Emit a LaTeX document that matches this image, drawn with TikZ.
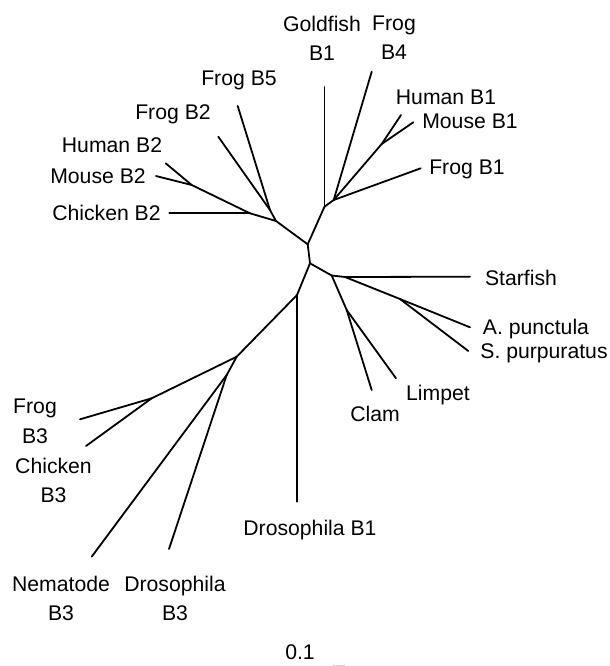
\documentclass[tikz,border=0pt]{standalone}
\usepackage{fontspec}
\setmainfont{Liberation Sans}
\begin{document}
\begin{tikzpicture}[x=0.5pt,y=-0.5pt,
  branch/.style={line width=0.9pt, line cap=round, line join=round},
  lbl/.style={inner sep=0pt, font=\fontsize{10.6}{14.6}\selectfont},
  lbl2/.style={lbl, align=center, anchor=north}]
\useasboundingbox (0,0) rectangle (610,666);
% internal nodes
\coordinate (A) at (307.7,244.3);
\coordinate (B) at (310,263.3);
\coordinate (C) at (324.5,206.7);
\coordinate (D) at (333.7,200);
\coordinate (E) at (381.7,144);
\coordinate (F) at (276,221);
\coordinate (G) at (270,210);
\coordinate (HM) at (191.7,185);
\coordinate (CK) at (250,213.3);
\coordinate (H) at (331.7,275.5);
\coordinate (K) at (345,277);
\coordinate (EC) at (400,299);
\coordinate (MO) at (346.7,310);
\coordinate (I) at (297,295);
\coordinate (J) at (236.7,356.7);
\coordinate (NJ) at (226.7,375);
\coordinate (FC) at (151.7,398.3);
% tips
\coordinate (tGoldfish) at (324.5,87);
\coordinate (tFrogB4) at (371.7,71.7);
\coordinate (tHumanB1) at (401,115);
\coordinate (tMouseB1) at (413.3,122.3);
\coordinate (tFrogB1) at (420.7,168.3);
\coordinate (tFrogB5) at (237.7,106);
\coordinate (tFrogB2) at (218.3,136.7);
\coordinate (tHumanB2) at (165.7,163.3);
\coordinate (tMouseB2) at (156,176);
\coordinate (tChickenB2) at (169.3,213.3);
\coordinate (tStarfish) at (470,276.7);
\coordinate (tApunct) at (470,327.3);
\coordinate (tSpurp) at (468.3,351);
\coordinate (tLimpet) at (396,378.3);
\coordinate (tClam) at (371.7,390);
\coordinate (tDrosB1) at (297,501.7);
\coordinate (tFrogB3) at (80,419.3);
\coordinate (tChickenB3) at (86,446);
\coordinate (tNematode) at (91.7,556.7);
\coordinate (tDrosB3) at (169,549);
% branches
\draw[branch] (A) -- (B);
\draw[branch] (A) -- (C);
\draw[branch] (C) -- (tGoldfish);
\draw[branch] (C) -- (D);
\draw[branch] (D) -- (tFrogB4);
\draw[branch] (D) -- (E);
\draw[branch] (E) -- (tHumanB1);
\draw[branch] (E) -- (tMouseB1);
\draw[branch] (D) -- (tFrogB1);
\draw[branch] (A) -- (F);
\draw[branch] (F) -- (G);
\draw[branch] (G) -- (tFrogB5);
\draw[branch] (G) -- (tFrogB2);
\draw[branch] (F) -- (CK);
\draw[branch] (CK) -- (tChickenB2);
\draw[branch] (CK) -- (HM);
\draw[branch] (HM) -- (tHumanB2);
\draw[branch] (HM) -- (tMouseB2);
\draw[branch] (B) -- (H);
\draw[branch] (H) -- (K);
\draw[branch] (K) -- (tStarfish);
\draw[branch] (K) -- (EC);
\draw[branch] (EC) -- (tApunct);
\draw[branch] (EC) -- (tSpurp);
\draw[branch] (H) -- (MO);
\draw[branch] (MO) -- (tLimpet);
\draw[branch] (MO) -- (tClam);
\draw[branch] (B) -- (I);
\draw[branch] (I) -- (tDrosB1);
\draw[branch] (I) -- (J);
\draw[branch] (J) -- (FC);
\draw[branch] (FC) -- (tFrogB3);
\draw[branch] (FC) -- (tChickenB3);
\draw[branch] (J) -- (NJ);
\draw[branch] (NJ) -- (tNematode);
\draw[branch] (NJ) -- (tDrosB3);
% labels
\node[lbl2] (lGoldfish) at (322,15.3) {Goldfish\\B1};
\node[lbl2] (lFrogB4) at (394,15.3) {Frog\\B4};
\node[lbl, anchor=base] (lHumanB1) at (446,104) {Human B1};
\node[lbl, anchor=base] (lMouseB1) at (470,128) {Mouse B1};
\node[lbl, anchor=base] (lFrogB1) at (467,174.6) {Frog B1};
\node[lbl, anchor=base] (lFrogB5) at (239,85.6) {Frog B5};
\node[lbl, anchor=base] (lFrogB2) at (173,119) {Frog B2};
\node[lbl, anchor=base] (lHumanB2) at (112,152.3) {Human B2};
\node[lbl, anchor=base] (lMouseB2) at (98,183) {Mouse B2};
\node[lbl, anchor=base] (lChickenB2) at (106.5,220.6) {Chicken B2};
\node[lbl, anchor=base] (lStarfish) at (521,285) {Starfish};
\node[lbl, anchor=base] (lApunct) at (536,334) {A. punctula};
\node[lbl, anchor=base] (lSpurp) at (544,358.5) {S. purpuratus};
\node[lbl, anchor=base] (lLimpet) at (438,400.3) {Limpet};
\node[lbl, anchor=base] (lClam) at (375,421.3) {Clam};
\node[lbl, anchor=base] (lDrosB1) at (310,535.6) {Drosophila B1};
\node[lbl2] (lFrogB3) at (35,399) {Frog\\B3};
\node[lbl2] (lChickenB3) at (53.5,458) {Chicken\\B3};
\node[lbl2] (lNematode) at (61,575.6) {Nematode\\B3};
\node[lbl2] (lDrosB3) at (175,575.6) {Drosophila\\B3};
\node[lbl, anchor=base] (lScale) at (300,659) {0.1};
% scale bar (cut off at the bottom edge)
\coordinate (s1) at (333,665.5);
\coordinate (s2) at (345,665.5);
\draw[line width=1pt, gray!40] (s1) -- (s2);
\end{tikzpicture}
\end{document}
